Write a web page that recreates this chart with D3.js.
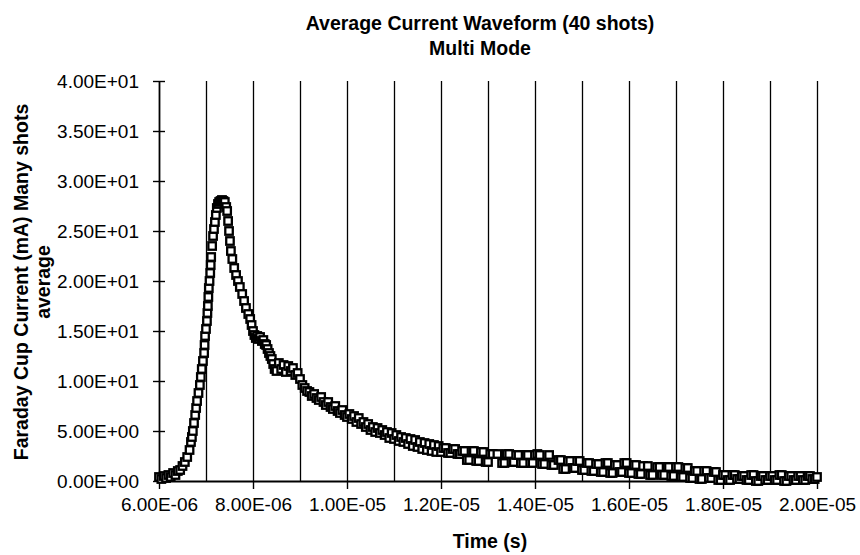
<!DOCTYPE html>
<html>
<head>
<meta charset="utf-8">
<script src="https://cdn.jsdelivr.net/npm/d3@7"></script>
<style>
  body { margin: 0; background: #fff; }
  text { font-family: "Liberation Sans", Arial, Helvetica, sans-serif; fill: #000; }
</style>
</head>
<body>
<div id="wrapper"></div>
<script>
// averaged waveform, [time in microseconds, current in mA]
const samples = [
    // baseline and start of rise
    [6.00, 0.4], [6.05, 0.2], [6.10, 0.5], [6.15, 0.3], [6.20, 0.6], [6.25, 0.4], [6.30, 0.8],
    [6.35, 0.6], [6.40, 1.0], [6.45, 1.1], [6.50, 1.5], [6.55, 1.9], [6.60, 2.4], [6.65, 3.1],
    // rising edge
    [6.68, 3.9], [6.70, 4.4], [6.72, 5.0], [6.745, 5.8], [6.77, 6.6], [6.79, 7.3], [6.81, 8.0],
    [6.84, 8.8], [6.87, 9.6], [6.89, 10.4], [6.91, 11.2], [6.935, 12.0], [6.96, 12.8], [6.97, 13.6],
    [6.98, 14.5], [7.00, 15.2], [7.02, 16.0], [7.03, 16.8], [7.04, 17.5], [7.05, 18.4], [7.06, 19.3],
    [7.075, 20.0], [7.09, 20.8], [7.10, 21.6], [7.11, 22.4], [7.13, 23.5], [7.15, 24.5], [7.17, 25.2],
    [7.19, 25.9], [7.21, 26.6], [7.23, 27.3], [7.255, 27.7], [7.28, 27.9], [7.31, 28.0], [7.34, 28.1],
    [7.37, 28.0], [7.40, 27.9],
    // falling edge
    [7.43, 27.4], [7.45, 27.0], [7.47, 26.0], [7.49, 25.0], [7.51, 24.0], [7.53, 23.0], [7.56, 22.2],
    [7.60, 21.3], [7.64, 20.6], [7.68, 20.0], [7.72, 19.4], [7.77, 18.7], [7.81, 18.0], [7.85, 17.3],
    [7.90, 16.7], [7.94, 16.2], [7.97, 15.6], [8.00, 15.0], [8.03, 14.6], [8.06, 14.3], [8.09, 14.5],
    [8.12, 14.2], [8.15, 14.4], [8.19, 14.0], [8.22, 14.1], [8.25, 13.7], [8.28, 13.6], [8.31, 13.2],
    [8.34, 12.8], [8.37, 12.5], [8.40, 12.2], [8.43, 11.7], [8.46, 11.2], [8.50, 11.0],
    // shoulder and decay
    [8.55, 11.8], [8.60, 11.2], [8.65, 11.6], [8.70, 10.9], [8.75, 11.5], [8.80, 11.0], [8.85, 11.3],
    [8.90, 10.6], [8.95, 10.8], [9.00, 10.2], [9.05, 9.6], [9.10, 9.3], [9.15, 9.0], [9.20, 8.9],
    [9.25, 8.5], [9.30, 8.7], [9.35, 8.3], [9.40, 8.1], [9.45, 8.4], [9.50, 7.9], [9.55, 7.6],
    [9.60, 7.9], [9.65, 7.4], [9.70, 7.2], [9.75, 7.5], [9.80, 7.0], [9.85, 6.8], [9.90, 7.1],
    [9.95, 6.6], [10.00, 6.4], [10.05, 6.7], [10.10, 6.2], [10.15, 6.5], [10.20, 5.9], [10.25, 6.3],
    [10.30, 5.7], [10.35, 5.9], [10.40, 5.4], [10.45, 5.7], [10.50, 5.1], [10.55, 5.4], [10.60, 4.9],
    [10.65, 5.3], [10.70, 4.8], [10.75, 5.1], [10.80, 4.6], [10.85, 4.9], [10.90, 4.3], [10.95, 4.8],
    [11.00, 4.2], [11.05, 4.6], [11.10, 4.0], [11.15, 4.4], [11.20, 3.9], [11.25, 4.3], [11.30, 3.7],
    [11.35, 4.2], [11.40, 3.5], [11.45, 4.1], [11.50, 3.4], [11.55, 3.9], [11.60, 3.2], [11.65, 3.8],
    [11.70, 3.1], [11.75, 3.7], [11.80, 3.0], [11.85, 3.6], [11.90, 2.9], [11.95, 3.5], [12.00, 2.9],
    // tail
    [12.05, 3.3], [12.1, 3.3], [12.15, 2.8], [12.2, 2.8], [12.25, 3.2], [12.3, 3.2], [12.35, 2.7],
    [12.4, 2.7], [12.45, 3.0], [12.5, 3.0], [12.55, 2.1], [12.6, 2.1], [12.65, 3.0], [12.7, 3.0],
    [12.75, 2.0], [12.8, 2.0], [12.85, 2.9], [12.9, 2.9], [12.95, 1.9], [13.0, 1.9], [13.05, 2.7],
    [13.1, 2.7], [13.2, 2.7], [13.3, 1.8], [13.35, 1.8], [13.4, 2.7], [13.45, 2.7], [13.5, 1.9],
    [13.55, 1.9], [13.6, 2.6], [13.65, 2.6], [13.7, 1.8], [13.75, 1.8], [13.8, 2.6], [13.85, 2.6],
    [13.9, 1.8], [13.95, 1.8], [14.0, 2.6], [14.05, 2.7], [14.1, 2.6], [14.15, 1.7], [14.2, 1.7],
    [14.3, 2.6], [14.35, 1.6], [14.4, 1.6], [14.5, 2.1], [14.55, 2.1], [14.6, 1.2], [14.65, 1.2],
    [14.7, 2.0], [14.75, 2.0], [14.8, 1.3], [14.85, 1.3], [14.9, 2.0], [14.95, 2.0], [15.0, 1.1],
    [15.05, 1.1], [15.1, 1.8], [15.15, 1.8], [15.2, 1.0], [15.25, 1.0], [15.3, 1.7], [15.35, 1.7],
    [15.4, 0.9], [15.45, 0.9], [15.5, 1.8], [15.55, 1.8], [15.6, 0.8], [15.65, 0.8], [15.7, 1.6],
    [15.75, 1.6], [15.8, 0.9], [15.85, 0.9], [15.9, 1.8], [15.95, 1.8], [16.0, 0.8], [16.05, 0.8],
    [16.1, 1.6], [16.15, 1.6], [16.2, 0.7], [16.25, 0.7], [16.3, 1.5], [16.4, 1.5], [16.45, 0.6],
    [16.5, 0.6], [16.6, 1.4], [16.65, 1.4], [16.7, 0.6], [16.75, 0.6], [16.8, 1.4], [16.85, 1.4],
    [16.9, 0.5], [16.95, 0.5], [17.0, 1.4], [17.05, 1.4], [17.1, 0.4], [17.15, 0.4], [17.2, 1.3],
    [17.25, 1.3], [17.3, 0.3], [17.35, 0.3], [17.4, 1.0], [17.45, 1.0], [17.5, 0.2], [17.55, 0.2],
    [17.6, 1.0], [17.65, 1.0], [17.7, 0.3], [17.75, 0.3], [17.8, 0.9], [17.85, 0.9], [17.9, 0.1],
    [17.95, 0.1], [18.0, 0.6], [18.05, 0.6], [18.1, 0.1], [18.15, 0.1], [18.2, 0.6], [18.25, 0.6],
    [18.3, 0.2], [18.35, 0.2], [18.4, 0.5], [18.45, 0.5], [18.5, 0.1], [18.55, 0.1], [18.6, 0.6],
    [18.65, 0.6], [18.7, 0.0], [18.75, 0.0], [18.8, 0.5], [18.85, 0.5], [18.9, 0.1], [18.95, 0.1],
    [19.0, 0.5], [19.05, 0.5], [19.1, 0.1], [19.15, 0.1], [19.2, 0.6], [19.25, 0.6], [19.3, 0.0],
    [19.35, 0.0], [19.4, 0.5], [19.45, 0.5], [19.5, 0.1], [19.55, 0.1], [19.6, 0.5], [19.65, 0.5],
    [19.7, 0.1], [19.75, 0.1], [19.8, 0.5], [19.85, 0.5], [19.9, 0.2], [19.95, 0.2], [20.0, 0.4]
];

const xTickValues = [6, 8, 10, 12, 14, 16, 18, 20];
const xTickLabels = ["6.00E-06", "8.00E-06", "1.00E-05", "1.20E-05", "1.40E-05", "1.60E-05", "1.80E-05", "2.00E-05"];
const xGridValues = [7, 8, 9, 10, 11, 12, 13, 14, 15, 16, 17, 18, 19, 20];
const yTickValues = [0, 5, 10, 15, 20, 25, 30, 35, 40];
const yTickLabels = ["0.00E+00", "5.00E+00", "1.00E+01", "1.50E+01", "2.00E+01", "2.50E+01", "3.00E+01", "3.50E+01", "4.00E+01"];

const titleLines = ["Average Current Waveform (40 shots)", "Multi Mode"];
const yTitleLines = ["Faraday Cup Current (mA) Many shots", "average"];
const xTitle = "Time (s)";

function buildPlot(id) {
    const xAccessor = d => d[0];
    const yAccessor = d => d[1];

    var dimension = {
        width: 860,
        height: 555,
        margin: { top: 81, left: 159, bottom: 74, right: 43 }
    };
    dimension.boundedWidth = dimension.width - dimension.margin.left - dimension.margin.right;
    dimension.boundedHeight = dimension.height - dimension.margin.top - dimension.margin.bottom;

    const svg = d3.select("#" + id).append("svg")
        .attr("width", dimension.width)
        .attr("height", dimension.height);

    const bounded = svg.append("g")
        .attr("transform", `translate(${dimension.margin.left},${dimension.margin.top})`);

    const xScaler = d3.scaleLinear()
        .domain([6, 20])
        .range([0, dimension.boundedWidth]);

    const yScaler = d3.scaleLinear()
        .domain([0, 40])
        .range([dimension.boundedHeight, 0]);

    // vertical gridlines every 1 us
    bounded.append("g")
        .selectAll("line")
        .data(xGridValues)
        .join("line")
        .attr("x1", d => Math.round(xScaler(d)) + 0.5)
        .attr("x2", d => Math.round(xScaler(d)) + 0.5)
        .attr("y1", 0)
        .attr("y2", dimension.boundedHeight)
        .attr("stroke", "#000")
        .attr("stroke-width", 1.3);

    // x axis
    const xAxis = d3.axisBottom(xScaler)
        .tickValues(xTickValues)
        .tickFormat((d, i) => xTickLabels[i])
        .tickSizeInner(8)
        .tickSizeOuter(0)
        .tickPadding(18);

    const xAxisGroup = bounded.append("g")
        .attr("transform", `translate(0,${dimension.boundedHeight})`)
        .call(xAxis);
    xAxisGroup.select(".domain").attr("stroke-width", 1.8);
    xAxisGroup.selectAll(".tick line").attr("stroke-width", 1.4);
    xAxisGroup.selectAll("text")
        .style("font-size", "19px")
        .attr("dy", "0.2em");

    // y axis, ticks cross the axis line
    const yAxis = d3.axisLeft(yScaler)
        .tickValues(yTickValues)
        .tickFormat((d, i) => yTickLabels[i])
        .tickSizeInner(6)
        .tickSizeOuter(0)
        .tickPadding(14);

    const yAxisGroup = bounded.append("g").call(yAxis);
    yAxisGroup.select(".domain").attr("stroke-width", 1.8);
    yAxisGroup.selectAll(".tick line")
        .attr("x1", 6)
        .attr("stroke-width", 1.4);
    yAxisGroup.selectAll("text")
        .style("font-size", "19px")
        .attr("dy", "0.35em");

    // hollow square markers
    const size = 7.5;
    bounded.append("g")
        .selectAll("rect")
        .data(samples)
        .join("rect")
        .attr("x", d => xScaler(xAccessor(d)) - size / 2)
        .attr("y", d => yScaler(yAccessor(d)) - size / 2)
        .attr("width", size)
        .attr("height", size)
        .attr("fill", "#fff")
        .attr("stroke", "#000")
        .attr("stroke-width", 2.3);

    // titles
    svg.append("g")
        .selectAll("text")
        .data(titleLines)
        .join("text")
        .attr("x", 480)
        .attr("y", (d, i) => 30 + i * 25)
        .attr("text-anchor", "middle")
        .style("font-weight", "bold")
        .style("font-size", "19.5px")
        .text(d => d);

    svg.append("text")
        .attr("x", 490)
        .attr("y", 548)
        .attr("text-anchor", "middle")
        .style("font-weight", "bold")
        .style("font-size", "19.5px")
        .text(xTitle);

    svg.append("g")
        .selectAll("text")
        .data(yTitleLines)
        .join("text")
        .attr("text-anchor", "middle")
        .attr("transform", (d, i) => `translate(${28 + i * 22},282)rotate(-90)`)
        .style("font-weight", "bold")
        .style("font-size", "19.5px")
        .text(d => d);
}

buildPlot("wrapper");
</script>
</body>
</html>
